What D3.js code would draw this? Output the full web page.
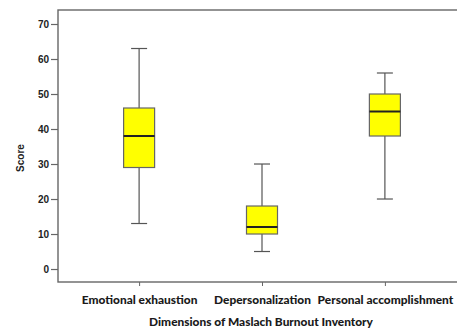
<!DOCTYPE html>
<html>
<head>
<meta charset="utf-8">
<script src="https://cdn.jsdelivr.net/npm/d3@7"></script>
<style>
  html, body { margin: 0; padding: 0; background: #fff; }
  svg { display: block; }
</style>
</head>
<body>
<div id="chart"></div>
<script>
// Maslach Burnout Inventory dimensions: five-number summaries per dimension
const categories = ["Emotional exhaustion", "Depersonalization", "Personal accomplishment"];
const whiskerLow  = [13, 5, 20];
const quartile1   = [29, 10, 38];
const medians     = [38, 12, 45];
const quartile3   = [46, 18, 50];
const whiskerHigh = [63, 30, 56];
const yTicks = [0, 10, 20, 30, 40, 50, 60, 70];

const W = 457, H = 330;
const plotLeft = 58, plotTop = 10, plotBottom = 282, plotRight = 466;

const svg = d3.select("#chart").append("svg")
  .attr("width", W).attr("height", H);

const y = d3.scaleLinear().domain([-3.71, 74]).range([plotBottom, plotTop]);
const x = d3.scalePoint().domain(categories).range([plotLeft, plotRight]).padding(0.66);

const frameColor = "#666";
const labelFont = "Lato, 'Open Sans', sans-serif";

// plot frame
svg.append("rect")
  .attr("x", plotLeft).attr("y", plotTop)
  .attr("width", plotRight - plotLeft).attr("height", plotBottom - plotTop)
  .attr("fill", "none").attr("stroke", frameColor).attr("stroke-width", 1.4);

// y axis
const yAxis = d3.axisLeft(y).tickValues(yTicks).tickSize(7).tickPadding(2);
const gy = svg.append("g").attr("transform", `translate(${plotLeft},0)`).call(yAxis);
gy.select(".domain").remove();
gy.selectAll(".tick line").attr("stroke", frameColor).attr("stroke-width", 1.2);
gy.selectAll(".tick text")
  .attr("font-family", "'Liberation Sans', Arial, sans-serif")
  .attr("font-weight", "bold").attr("font-size", 10).attr("fill", "#222");

// x axis
const xAxis = d3.axisBottom(x).tickSize(4).tickPadding(10);
const gx = svg.append("g").attr("transform", `translate(0,${plotBottom})`).call(xAxis);
gx.select(".domain").remove();
gx.selectAll(".tick line").attr("stroke", frameColor).attr("stroke-width", 1);
gx.selectAll(".tick text")
  .attr("font-family", labelFont)
  .attr("font-weight", 900).attr("font-size", 11.9).attr("fill", "#1a1a1a");

// axis titles
svg.append("text")
  .attr("x", 261).attr("y", 326)
  .attr("text-anchor", "middle")
  .attr("font-family", labelFont)
  .attr("font-weight", 900).attr("font-size", 11.9).attr("fill", "#1a1a1a")
  .text("Dimensions of Maslach Burnout Inventory");

svg.append("text")
  .attr("transform", "translate(24,158) rotate(-90)")
  .attr("text-anchor", "middle")
  .attr("font-family", "'Liberation Sans', Arial, sans-serif")
  .attr("font-weight", "bold").attr("font-size", 10).attr("fill", "#222")
  .text("Score");

// boxes
const boxW = 31, capW = 16;
const data = categories.map((c, i) => ({
  c, lo: whiskerLow[i], q1: quartile1[i], med: medians[i], q3: quartile3[i], hi: whiskerHigh[i]
}));

const g = svg.selectAll("g.box").data(data).enter().append("g").attr("class", "box");

g.append("line")
  .attr("x1", d => x(d.c)).attr("x2", d => x(d.c))
  .attr("y1", d => y(d.hi)).attr("y2", d => y(d.q3))
  .attr("stroke", "#555").attr("stroke-width", 1.2);
g.append("line")
  .attr("x1", d => x(d.c)).attr("x2", d => x(d.c))
  .attr("y1", d => y(d.q1)).attr("y2", d => y(d.lo))
  .attr("stroke", "#555").attr("stroke-width", 1.2);
g.append("line")
  .attr("x1", d => x(d.c) - capW / 2).attr("x2", d => x(d.c) + capW / 2)
  .attr("y1", d => y(d.hi)).attr("y2", d => y(d.hi))
  .attr("stroke", "#555").attr("stroke-width", 1.2);
g.append("line")
  .attr("x1", d => x(d.c) - capW / 2).attr("x2", d => x(d.c) + capW / 2)
  .attr("y1", d => y(d.lo)).attr("y2", d => y(d.lo))
  .attr("stroke", "#555").attr("stroke-width", 1.2);
g.append("rect")
  .attr("x", d => x(d.c) - boxW / 2).attr("width", boxW)
  .attr("y", d => y(d.q3)).attr("height", d => y(d.q1) - y(d.q3))
  .attr("fill", "#ffff00").attr("stroke", "#666").attr("stroke-width", 1.2);
g.append("line")
  .attr("x1", d => x(d.c) - boxW / 2).attr("x2", d => x(d.c) + boxW / 2)
  .attr("y1", d => y(d.med)).attr("y2", d => y(d.med))
  .attr("stroke", "#222").attr("stroke-width", 2);
</script>
</body>
</html>
